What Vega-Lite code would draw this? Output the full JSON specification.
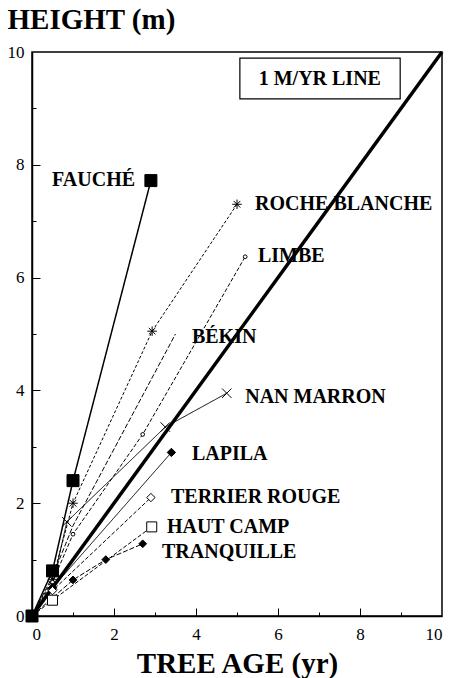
{
  "$schema": "https://vega.github.io/schema/vega-lite/v6.json",
  "width": 410,
  "height": 564,
  "autosize": {"type": "none"},
  "padding": {"left": 32, "top": 52, "right": 8, "bottom": 62},
  "background": "white",
  "config": {
    "font": "Liberation Serif",
    "view": {"stroke": "black", "strokeWidth": 1.5},
    "axis": {
      "domainColor": "black",
      "domainWidth": 1.5,
      "tickColor": "black",
      "tickWidth": 1,
      "labelFont": "Liberation Serif",
      "labelFontSize": 17,
      "labelColor": "black",
      "titleFont": "Liberation Serif",
      "titleFontSize": 29,
      "titleFontWeight": "bold",
      "titleColor": "black",
      "grid": false
    }
  },
  "resolve": {"axis": {"x": "independent", "y": "independent"}},
  "datasets": {
    "series": [
      {"series": "ROCHE BLANCHE", "age": 0, "height": 0},
      {"series": "ROCHE BLANCHE", "age": 0.5, "height": 0.65},
      {"series": "ROCHE BLANCHE", "age": 1.0, "height": 2.0},
      {"series": "ROCHE BLANCHE", "age": 2.93, "height": 5.05},
      {"series": "ROCHE BLANCHE", "age": 5.0, "height": 7.3},
      {"series": "LIMBE", "age": 0, "height": 0},
      {"series": "LIMBE", "age": 0.5, "height": 0.6},
      {"series": "LIMBE", "age": 1.0, "height": 1.45},
      {"series": "LIMBE", "age": 2.7, "height": 3.22},
      {"series": "LIMBE", "age": 5.2, "height": 6.37},
      {"series": "BÉKIN", "age": 0, "height": 0},
      {"series": "BÉKIN", "age": 0.5, "height": 0.7},
      {"series": "BÉKIN", "age": 1.0, "height": 1.6},
      {"series": "BÉKIN", "age": 3.5, "height": 5.0},
      {"series": "NAN MARRON", "age": 0, "height": 0},
      {"series": "NAN MARRON", "age": 0.5, "height": 0.55},
      {"series": "NAN MARRON", "age": 0.85, "height": 1.67},
      {"series": "NAN MARRON", "age": 3.25, "height": 3.35},
      {"series": "NAN MARRON", "age": 4.75, "height": 3.95},
      {"series": "LAPILA", "age": 0, "height": 0},
      {"series": "LAPILA", "age": 0.5, "height": 0.5},
      {"series": "LAPILA", "age": 3.4, "height": 2.9},
      {"series": "TERRIER ROUGE", "age": 0, "height": 0},
      {"series": "TERRIER ROUGE", "age": 0.5, "height": 0.45},
      {"series": "TERRIER ROUGE", "age": 2.9, "height": 2.1},
      {"series": "HAUT CAMP", "age": 0, "height": 0},
      {"series": "HAUT CAMP", "age": 0.5, "height": 0.28},
      {"series": "HAUT CAMP", "age": 2.92, "height": 1.58},
      {"series": "TRANQUILLE", "age": 0, "height": 0},
      {"series": "TRANQUILLE", "age": 1.0, "height": 0.64},
      {"series": "TRANQUILLE", "age": 1.8, "height": 1.0},
      {"series": "TRANQUILLE", "age": 2.7, "height": 1.28},
      {"series": "FAUCHÉ", "age": 0, "height": 0},
      {"series": "FAUCHÉ", "age": 0.5, "height": 0.8},
      {"series": "FAUCHÉ", "age": 1.0, "height": 2.4},
      {"series": "FAUCHÉ", "age": 2.9, "height": 7.72}
    ],
    "oneline": [
      {"age": 0, "height": 0},
      {"age": 10, "height": 10}
    ],
    "labels": [
      {"label": "FAUCHÉ", "age": 0.49, "height": 7.73},
      {"label": "ROCHE BLANCHE", "age": 5.44, "height": 7.3},
      {"label": "LIMBE", "age": 5.51, "height": 6.38},
      {"label": "BÉKIN", "age": 3.9, "height": 4.95},
      {"label": "NAN MARRON", "age": 5.2, "height": 3.88},
      {"label": "LAPILA", "age": 3.9, "height": 2.87},
      {"label": "TERRIER ROUGE", "age": 3.39, "height": 2.11},
      {"label": "HAUT CAMP", "age": 3.29, "height": 1.58},
      {"label": "TRANQUILLE", "age": 3.17, "height": 1.13}
    ],
    "box": [
      {"label": "1 M/YR LINE", "x1": 5.07, "x2": 8.98, "y1": 9.17, "y2": 9.89, "xc": 7.02, "yc": 9.52}
    ]
  },
  "layer": [
    {
      "data": {"name": "box"},
      "mark": {"type": "rect", "fill": "white", "stroke": "black", "strokeWidth": 1.2},
      "encoding": {
        "x": {"field": "x1", "type": "quantitative", "scale": {"domain": [0, 10], "nice": false},
          "axis": {
            "orient": "bottom",
            "title": "TREE AGE (yr)",
            "values": [0, 2, 4, 6, 8, 10],
            "format": "d",
            "ticks": false,
            "labelPadding": 10,
            "titleY": 56,
            "titleBaseline": "alphabetic"
          }},
        "x2": {"field": "x2"},
        "y": {"field": "y1", "type": "quantitative", "scale": {"domain": [0, 10], "nice": false},
          "axis": {
            "orient": "left",
            "title": "HEIGHT (m)",
            "values": [0, 2, 4, 6, 8, 10],
            "format": "d",
            "ticks": false,
            "labelPadding": 8,
            "titleAngle": 0,
            "titleAlign": "left",
            "titleBaseline": "alphabetic",
            "titleX": -25,
            "titleY": -24
          }},
        "y2": {"field": "y2"}
      }
    },
    {
      "data": {"name": "box"},
      "mark": {"type": "text", "font": "Liberation Serif", "fontSize": 20, "fontWeight": "bold", "align": "center", "baseline": "middle", "color": "black"},
      "encoding": {
        "x": {"field": "xc", "type": "quantitative", "scale": {"domain": [0, 10], "nice": false},
          "axis": {
            "orient": "top",
            "offset": -564,
            "title": null,
            "labels": false,
            "domain": false,
            "values": [1, 2, 3, 4, 5, 6, 7, 8, 9],
            "tickSize": {"condition": {"test": "datum.value % 2 === 0", "value": 8}, "value": 4}
          }},
        "y": {"field": "yc", "type": "quantitative", "scale": {"domain": [0, 10], "nice": false},
          "axis": {
            "orient": "right",
            "offset": -410,
            "title": null,
            "labels": false,
            "domain": false,
            "values": [1, 2, 3, 4, 5, 6, 7, 8, 9],
            "tickSize": {"condition": {"test": "datum.value % 2 === 0", "value": 8}, "value": 4}
          }},
        "text": {"field": "label"}
      }
    },
    {
      "data": {"name": "oneline"},
      "mark": {"type": "line", "color": "black", "strokeWidth": 3.5},
      "encoding": {
        "x": {"field": "age", "type": "quantitative", "scale": {"domain": [0, 10], "nice": false}, "axis": null},
        "y": {"field": "height", "type": "quantitative", "scale": {"domain": [0, 10], "nice": false}, "axis": null}
      }
    },
    {
      "data": {"name": "series"},
      "mark": {"type": "line", "color": "black"},
      "encoding": {
        "x": {"field": "age", "type": "quantitative", "scale": {"domain": [0, 10], "nice": false}, "axis": null},
        "y": {"field": "height", "type": "quantitative", "scale": {"domain": [0, 10], "nice": false}, "axis": null},
        "detail": {"field": "series"},
        "strokeDash": {"field": "series", "type": "nominal", "legend": null,
          "scale": {"domain": ["FAUCHÉ", "ROCHE BLANCHE", "LIMBE", "BÉKIN", "NAN MARRON", "LAPILA", "TERRIER ROUGE", "HAUT CAMP", "TRANQUILLE"],
            "range": [[1, 0], [3, 2], [4, 2], [5, 2], [1, 0], [1, 0], [4, 2], [4, 2], [5, 2]]}},
        "strokeWidth": {"field": "series", "type": "nominal", "legend": null,
          "scale": {"type": "ordinal", "domain": ["FAUCHÉ", "ROCHE BLANCHE", "LIMBE", "BÉKIN", "NAN MARRON", "LAPILA", "TERRIER ROUGE", "HAUT CAMP", "TRANQUILLE"],
            "range": [1.5, 1, 1, 1, 1, 1, 1, 1, 1]}}
      }
    },
    {
      "data": {"name": "series"},
      "mark": {"type": "point", "stroke": "black", "strokeWidth": 1, "opacity": 1},
      "encoding": {
        "x": {"field": "age", "type": "quantitative", "scale": {"domain": [0, 10], "nice": false}, "axis": null},
        "y": {"field": "height", "type": "quantitative", "scale": {"domain": [0, 10], "nice": false}, "axis": null},
        "shape": {"field": "series", "type": "nominal", "legend": null,
          "scale": {"domain": ["FAUCHÉ", "ROCHE BLANCHE", "LIMBE", "BÉKIN", "NAN MARRON", "LAPILA", "TERRIER ROUGE", "HAUT CAMP", "TRANQUILLE"],
            "range": ["square", "M-1,0L1,0M0,-1L0,1M-0.7,-0.7L0.7,0.7M-0.7,0.7L0.7,-0.7", "circle", "circle", "M-1,-1L1,1M-1,1L1,-1", "diamond", "diamond", "square", "diamond"]}},
        "fill": {"field": "series", "type": "nominal", "legend": null,
          "scale": {"domain": ["FAUCHÉ", "ROCHE BLANCHE", "LIMBE", "BÉKIN", "NAN MARRON", "LAPILA", "TERRIER ROUGE", "HAUT CAMP", "TRANQUILLE"],
            "range": ["black", "transparent", "white", "white", "transparent", "black", "white", "white", "black"]}},
        "size": {"field": "series", "type": "nominal", "legend": null,
          "scale": {"type": "ordinal", "domain": ["FAUCHÉ", "ROCHE BLANCHE", "LIMBE", "BÉKIN", "NAN MARRON", "LAPILA", "TERRIER ROUGE", "HAUT CAMP", "TRANQUILLE"],
            "range": [144, 90, 14, 0, 90, 70, 70, 100, 60]}}
      }
    },
    {
      "data": {"name": "labels"},
      "mark": {"type": "text", "font": "Liberation Serif", "fontSize": 20, "fontWeight": "bold", "align": "left", "baseline": "middle", "color": "black"},
      "encoding": {
        "x": {"field": "age", "type": "quantitative", "scale": {"domain": [0, 10], "nice": false}, "axis": null},
        "y": {"field": "height", "type": "quantitative", "scale": {"domain": [0, 10], "nice": false}, "axis": null},
        "text": {"field": "label"}
      }
    }
  ]
}
